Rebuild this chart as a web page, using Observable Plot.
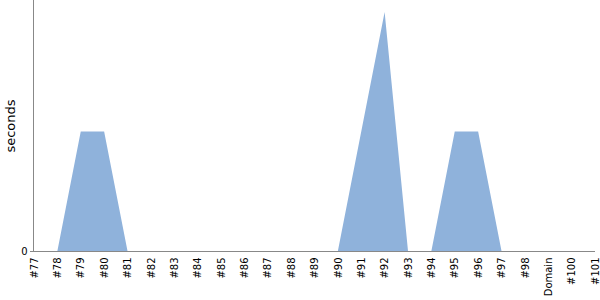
<!DOCTYPE html>
<html>
<head>
<meta charset="utf-8">
<script src="https://cdn.jsdelivr.net/npm/d3@7"></script>
<script src="https://cdn.jsdelivr.net/npm/@observablehq/plot@0.6"></script>
<style>
  html, body { margin: 0; padding: 0; background: #fff; }
  svg { display: block; }
</style>
</head>
<body>
<div id="chart"></div>
<script>
const categories = ["#77","#78","#79","#80","#81","#82","#83","#84","#85","#86","#87","#88","#89","#90","#91","#92","#93","#94","#95","#96","#97","#98","Domain","#100","#101"];
const seconds    = [0, 0, 1, 1, 0, 0, 0, 0, 0, 0, 0, 0, 0, 0, 1, 2, 0, 0, 1, 1, 0, 0, 0, 0, 0];
const yTicks = [0];

const data = categories.map((c, i) => ({cat: c, v: seconds[i]}));

const chart = Plot.plot({
  width: 600,
  height: 300,
  marginTop: 0,
  marginLeft: 34,
  marginRight: 5,
  marginBottom: 49,
  style: {fontFamily: "DejaVu Sans", fontSize: "10px", color: "#000", background: "#fff"},
  x: {type: "point", domain: categories, padding: 0, round: false},
  y: {domain: [0, 2.1]},
  marks: [
    Plot.areaY(data, {x: "cat", y: "v", fill: "#8fb2db", curve: "linear"}),
    Plot.ruleY([0], {stroke: "#888"}),
    Plot.ruleX([categories[0]], {stroke: "#888", dx: -1}),
    Plot.axisX({tickSize: 0, tickRotate: -90, tickPadding: 6, label: null, fill: "#000"}),
    Plot.axisY({ticks: yTicks, tickFormat: d => String(d), tickSize: 4, tickPadding: 3, stroke: "#888", fill: "#000", label: null}),
    Plot.text(["seconds"], {frameAnchor: "left", dx: -24, rotate: -90, fontSize: 13, fill: "#000", textAnchor: "middle"})
  ]
});
document.getElementById("chart").append(chart);
</script>
</body>
</html>
